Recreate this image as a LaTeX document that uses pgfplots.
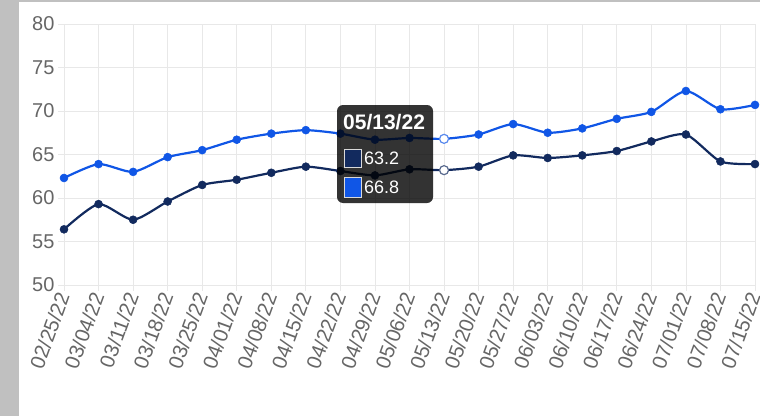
\documentclass[border=0pt]{standalone}
\usepackage{pgfplots}
\pgfplotsset{compat=1.18}
\usepackage{fontspec}
\setmainfont{Liberation Sans}
\definecolor{cNavy}{RGB}{18,42,94}
\definecolor{cBlue}{RGB}{16,86,230}
\definecolor{cTick}{RGB}{102,102,102}
\definecolor{cGrid}{RGB}{232,232,232}
\definecolor{cBand}{RGB}{192,192,192}
\begin{document}
\begin{tikzpicture}[x=1pt,y=1pt]
\path[use as bounding box] (0,0) rectangle (760,416);
\fill[cBand] (0,0) rectangle (19,416);
\fill[cBand] (0,414) rectangle (760,416);
\begin{axis}[
 at={(64pt,131pt)}, anchor=south west, scale only axis, width=691pt, height=261pt,
 xmin=0, xmax=20, ymin=50, ymax=80,
 xtick={0,...,20},
 xticklabels={02/25/22,03/04/22,03/11/22,03/18/22,03/25/22,04/01/22,04/08/22,04/15/22,04/22/22,04/29/22,05/06/22,05/13/22,05/20/22,05/27/22,06/03/22,06/10/22,06/17/22,06/24/22,07/01/22,07/08/22,07/15/22},
 ytick={50,55,...,80},
 xtick pos=left, ytick pos=left,
 grid=major, grid style={cGrid, line width=0.8pt},
 axis line style={cGrid, line width=1pt},
 tick align=outside, major tick length=6pt, tick style={cGrid, line width=0.8pt},
 ticklabel style={text=cTick, font=\fontsize{20}{20}\selectfont},
 xticklabel style={rotate=70, anchor=east, inner sep=2pt, font=\fontsize{20.5}{20.5}\selectfont},
 /pgf/number format/assume math mode=true,
 clip=false,
]
\addplot[cNavy, line width=2.2pt, smooth, tension=0.4, mark=*, mark size=4pt, mark options={line width=0.5pt}] coordinates {
(0,56.4) (1,59.3) (2,57.5) (3,59.6) (4,61.5) (5,62.1) (6,62.9) (7,63.6) (8,63.1) (9,62.6) (10,63.3) (11,63.2) (12,63.6) (13,64.9) (14,64.6) (15,64.9) (16,65.4) (17,66.5) (18,67.3) (19,64.2) (20,63.9)};
\addplot[cBlue, line width=2.2pt, smooth, tension=0.4, mark=*, mark size=4pt, mark options={line width=0.5pt}] coordinates {
(0,62.3) (1,63.9) (2,63.0) (3,64.7) (4,65.5) (5,66.7) (6,67.4) (7,67.8) (8,67.4) (9,66.7) (10,66.9) (11,66.8) (12,67.3) (13,68.5) (14,67.5) (15,68.0) (16,69.1) (17,69.9) (18,72.3) (19,70.2) (20,70.7)};
\addplot[only marks, mark=*, mark size=4.5pt, mark options={fill=white, draw=cNavy!70, line width=1.2pt}] coordinates {(11,63.2)};
\addplot[only marks, mark=*, mark size=4.5pt, mark options={fill=white, draw=cBlue!70, line width=1.2pt}] coordinates {(11,66.8)};
\end{axis}
\fill[black, opacity=0.8, rounded corners=6pt] (337,213) rectangle (433,311);
\node[anchor=west, text=white, font=\fontsize{21}{21}\selectfont\bfseries, inner sep=0] at (343,293.5) {05/13/22};
\draw[white!85!black, line width=0.8pt, fill=cNavy] (344,249) rectangle (361,267);
\node[anchor=west, text=white, font=\fontsize{18}{18}\selectfont, inner sep=0] at (364,258) {63.2};
\draw[white!85!black, line width=0.8pt, fill=cBlue] (344,219) rectangle (361,239);
\node[anchor=west, text=white, font=\fontsize{18}{18}\selectfont, inner sep=0] at (364,229) {66.8};
\end{tikzpicture}
\end{document}
